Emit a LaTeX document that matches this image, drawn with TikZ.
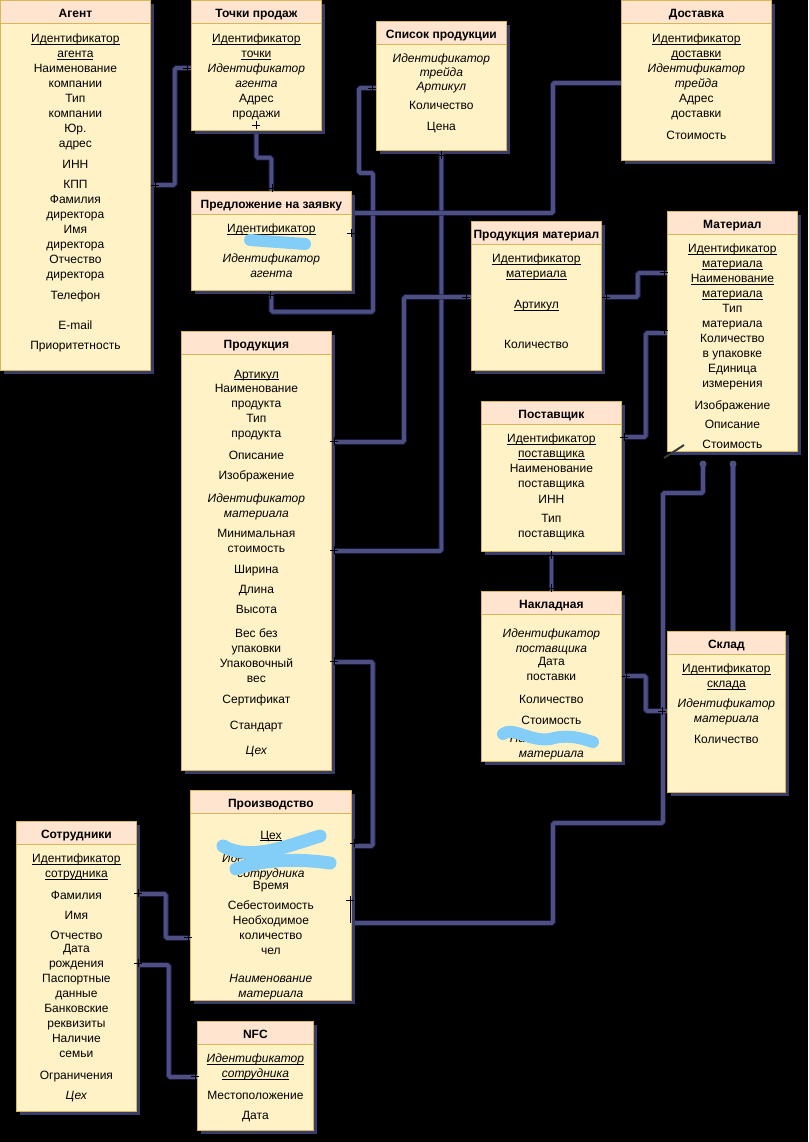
\documentclass[tikz,border=0pt]{standalone}
\usepackage{fontspec}
\setmainfont{Liberation Sans}
\usepackage{tikz}
\usetikzlibrary{positioning, shadows}
\definecolor{bodyfill}{HTML}{FFF2C6}
\definecolor{headfill}{HTML}{FFE4D0}
\definecolor{goldline}{HTML}{D6B656}
\definecolor{shadowcol}{HTML}{3A3C6A}
\definecolor{linkcol}{HTML}{4E5082}
\definecolor{linkedge}{HTML}{22245A}
\definecolor{scribblue}{HTML}{82CEF8}
\newcommand{\keyline}[1]{\setbox0=\hbox{#1}\rlap{\rule[-1.6pt]{\wd0}{0.6pt}}\box0}
\tikzstyle{entity} = [rectangle, anchor=north west, inner sep=0pt, draw=goldline, fill=bodyfill, line width=0.8pt, drop shadow={shadow xshift=4pt, shadow yshift=-4pt, fill=shadowcol, opacity=1}]
\tikzstyle{head} = [rectangle, anchor=north, inner sep=0pt, minimum height=23pt, text height=11pt, text depth=0pt, draw=goldline, fill=headfill, line width=0.8pt, font=\bfseries\fontsize{12}{15}\selectfont]
\tikzstyle{attr} = [align=center, inner sep=0pt, font=\fontsize{12}{15}\selectfont, execute at begin node=\strut]
\tikzstyle{link} = [draw=linkcol, line width=3.6pt, rounded corners=1.5pt, preaction={draw=linkedge, line width=5.4pt}]
\tikzstyle{onetick} = [draw=black, line width=0.6pt]
\tikzstyle{scribble} = [draw=scribblue, line width=12pt, line cap=round, line join=round]
\pgfdeclarelayer{back}
\pgfsetlayers{back,main}

\begin{document}
\begin{tikzpicture}[x=1pt, y=-1pt]
    \useasboundingbox (0,0) rectangle (808,1142);

    \node (agent) [entity, minimum width=150pt, minimum height=370pt] at (0,0) {};
    \node (agentHead) [head, minimum width=150pt] at (agent.north) {Агент};
    \node (agentAttr) [attr, below=10pt of agentHead] {\keyline{Идентификатор}\\ \keyline{агента}\\ Наименование\\ компании\\ Тип\\ компании\\ Юр.\\ адрес\\[6pt] ИНН\\[5pt] КПП\\ Фамилия\\ директора\\ Имя\\ директора\\ Отчество\\ директора\\[6pt] Телефон\\[15pt] E-mail\\[5pt] Приоритетность};

    \node (tochki) [entity, minimum width=130pt, minimum height=130pt] at (191,0) {};
    \node (tochkiHead) [head, minimum width=130pt] at (tochki.north) {Точки продаж};
    \node (tochkiAttr) [attr, below=10pt of tochkiHead] {\keyline{Идентификатор}\\ \keyline{точки}\\ \textit{Идентификатор}\\ \textit{агента}\\ Адрес\\ продажи};

    \node (spisok) [entity, minimum width=130pt, minimum height=129pt] at (376,21) {};
    \node (spisokHead) [head, minimum width=130pt] at (spisok.north) {Список продукции};
    \node (spisokAttr) [attr, below=9pt of spisokHead] {\textit{Идентификатор}\\[-1pt] \textit{трейда}\\[-1.5pt] \textit{Артикул}\\[4pt] Количество\\[6pt] Цена};

    \node (dostavka) [entity, minimum width=150pt, minimum height=160pt] at (621,0) {};
    \node (dostavkaHead) [head, minimum width=150pt] at (dostavka.north) {Доставка};
    \node (dostavkaAttr) [attr, below=10pt of dostavkaHead] {\keyline{Идентификатор}\\ \keyline{доставки}\\ \textit{Идентификатор}\\ \textit{трейда}\\ Адрес\\ доставки\\[7pt] Стоимость};

    \node (predl) [entity, minimum width=160pt, minimum height=99pt] at (191,191) {};
    \node (predlHead) [head, minimum width=160pt] at (predl.north) {Предложение на заявку};
    \node (predlAttr) [attr, below=9pt of predlHead] {\keyline{Идентификатор}\\[15pt] \textit{Идентификатор}\\ \textit{агента}};

    \node (pm) [entity, minimum width=130pt, minimum height=149pt] at (471,221) {};
    \node (pmHead) [head, minimum width=130pt] at (pm.north) {Продукция материал};
    \node (pmAttr) [attr, below=9pt of pmHead] {\keyline{Идентификатор}\\ \keyline{материала}\\[16pt] \keyline{Артикул}\\[25pt] Количество};

    \node (material) [entity, minimum width=130pt, minimum height=240pt] at (667,211) {};
    \node (materialHead) [head, minimum width=130pt] at (material.north) {Материал};
    \node (materialAttr) [attr, below=9pt of materialHead] {\keyline{Идентификатор}\\ \keyline{материала}\\ \keyline{Наименование}\\ \keyline{материала}\\ Тип\\ материала\\ Количество\\ в упаковке\\ Единица\\ измерения\\[7pt] Изображение\\[4pt] Описание\\[5pt] Стоимость};

    \node (prod) [entity, minimum width=150pt, minimum height=439pt] at (181,331) {};
    \node (prodHead) [head, minimum width=150pt] at (prod.north) {Продукция};
    \node (prodAttr) [attr, below=15pt of prodHead] {\keyline{Артикул}\\[-1pt] Наименование\\ продукта\\ Тип\\ продукта\\[7pt] Описание\\[5pt] Изображение\\[8pt] \textit{Идентификатор}\\ \textit{материала}\\[5pt] Минимальная\\ стоимость\\[6pt] Ширина\\[5pt] Длина\\[5pt] Высота\\[9pt] Вес без\\ упаковки\\ Упаковочный\\ вес\\[6pt] Сертификат\\[11pt] Стандарт\\[10pt] \textit{Цех}};

    \node (postav) [entity, minimum width=140pt, minimum height=150pt] at (481,401) {};
    \node (postavHead) [head, minimum width=140pt] at (postav.north) {Поставщик};
    \node (postavAttr) [attr, below=9pt of postavHead] {\keyline{Идентификатор}\\ \keyline{поставщика}\\ Наименование\\ поставщика\\[1pt] ИНН\\[4pt] Тип\\ поставщика};

    \node (nakl) [entity, minimum width=140pt, minimum height=170pt] at (481,591) {};
    \node (naklHead) [head, minimum width=140pt] at (nakl.north) {Накладная};
    \node (naklAttr) [attr, below=14pt of naklHead] {\textit{Идентификатор}\\ \textit{поставщика}\\[-2pt] Дата\\ поставки\\[8pt] Количество\\[6pt] Стоимость\\[3pt] \textit{Наименование}\\ \textit{материала}};

    \node (sklad) [entity, minimum width=118pt, minimum height=161pt] at (667,631) {};
    \node (skladHead) [head, minimum width=118pt] at (sklad.north) {Склад};
    \node (skladAttr) [attr, below=9pt of skladHead] {\keyline{Идентификатор}\\ \keyline{склада}\\[5pt] \textit{Идентификатор}\\ \textit{материала}\\[6pt] Количество};

    \node (proizv) [entity, minimum width=161pt, minimum height=210pt] at (190,790) {};
    \node (proizvHead) [head, minimum width=161pt] at (proizv.north) {Производство};
    \node (proizvAttr) [attr, below=17pt of proizvHead] {\keyline{Цех}\\[8pt] \textit{Идентификатор}\\ \textit{сотрудника}\\[-3pt] Время\\[5pt] Себестоимость\\ Необходимое\\ количество\\ чел\\[13pt] \textit{Наименование}\\ \textit{материала}};

    \node (sotr) [entity, minimum width=120pt, minimum height=290pt] at (16,821) {};
    \node (sotrHead) [head, minimum width=120pt] at (sotr.north) {Сотрудники};
    \node (sotrAttr) [attr, below=9pt of sotrHead] {\keyline{Идентификатор}\\ \keyline{сотрудника}\\[7pt] Фамилия\\[5pt] Имя\\[5pt] Отчество\\[-2pt] Дата\\ рождения\\ Паспортные\\ данные\\ Банковские\\ реквизиты\\ Наличие\\ семьи\\[7pt] Ограничения\\[5pt] \textit{Цех}};

    \node (nfc) [entity, minimum width=116pt, minimum height=109pt] at (197,1021) {};
    \node (nfcHead) [head, minimum width=116pt] at (nfc.north) {NFC};
    \node (nfcAttr) [attr, below=9pt of nfcHead] {\keyline{\textit{Идентификатор}}\\ \keyline{\textit{сотрудника}}\\[7pt] Местоположение\\[5pt] Дата};

    \coordinate (matOutA) at (703,464);
    \coordinate (matOutB) at (733,464);

    \begin{pgfonlayer}{back}
        \fill[black] (0,0) rectangle (808,1142);
        \draw [link] (agent.east |- 0,185) -- ++(24,0) |- (tochki.west |- 0,68);
        \draw [link] (tochki.south) -- ++(0,27) -| (predl.north);
        \draw [link] (predl.south) -- ++(0,21) -| (373,173) -- ++(-14,0) |- (spisok.west |- 0,88);
        \draw [link] (spisok.south) |- (prod.east |- 0,551);
        \draw [link] (dostavka.west |- 0,83) -- ++(-68,0) |- (predl.east |- 0,213);
        \draw [link] (pm.west |- 0,297) -- ++(-67,0) |- (prod.east |- 0,442);
        \draw [link] (pm.east |- 0,297) -- ++(36,0) |- (material.west |- 0,273);
        \draw [link] (postav.east |- 0,437) -- ++(24,0) |- (material.west |- 0,333);
        \draw [link] (matOutA) -- ++(0,29) -| (663,823) -| (553,923) -- (proizv.east |- 0,923);
        \draw [link] (matOutB) -- (matOutB |- sklad.north);
        \draw [link] (postav.south) -- (nakl.north);
        \draw [link] (nakl.east |- 0,676) -- ++(24,0) |- (sklad.west |- 0,711);
        \draw [link] (prod.east |- 0,662) -- ++(41,0) |- (proizv.east |- 0,846);
        \draw [link] (sotr.east |- 0,894) -- ++(29,0) |- (proizv.west |- 0,938);
        \draw [link] (sotr.east |- 0,965) -- ++(32,0) |- (nfc.west |- 0,1077);
    \end{pgfonlayer}

    % ends of the links
    \fill[linkcol] (matOutA) circle (3.5pt) (matOutB) circle (3.5pt);
    \foreach \x/\y in {155/185, 187/68, 256/125, 272/188, 270/295, 372/88, 441/155, 334/550, 351/233,
                       466/297, 334/441, 606/297, 664/272, 624/437, 664/330, 551/555, 551/588,
                       626/676, 662/711, 334/661, 354/843, 350/900, 138/893, 188/937, 138/963, 195/1076}
        \draw [onetick] (\x-4,\y) -- (\x+4,\y) (\x,\y-4) -- (\x,\y+4);
    \draw [onetick] (350,900) -- (350,923);

    % marks over the text
    \draw [scribble] (250,240) -- (305,244);
    \draw [scribble] (503,734) .. controls (512,726) and (530,742) .. (550,739) .. controls (568,734) and (580,738) .. (593,742);
    \draw [scribble, line width=13pt] (223,846) .. controls (250,862) and (290,845) .. (320,836);
    \draw [scribble, line width=13pt] (236,869) .. controls (260,860) and (295,858) .. (330,863);
    \draw [gray!45!black, line width=2pt] (664,458) -- (684,445);
\end{tikzpicture}
\end{document}
